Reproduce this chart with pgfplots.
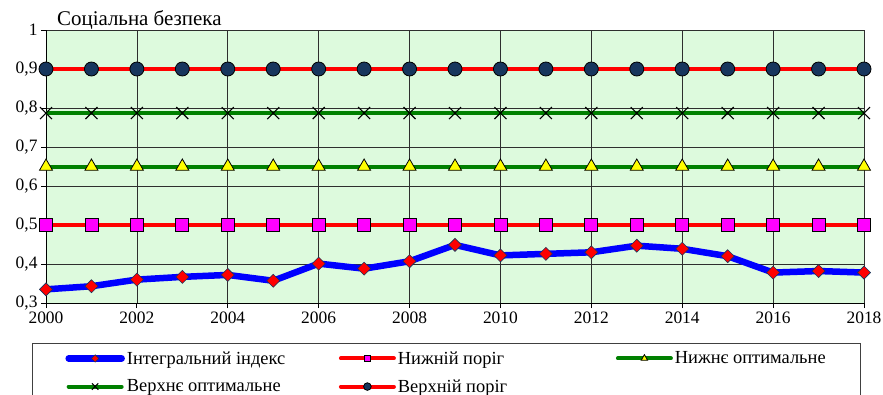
\documentclass[border=0pt]{standalone}
\usepackage{fontspec}
\setmainfont{Liberation Serif}
\usepackage{pgfplots}
\usepackage{pgfplotstable}
\pgfplotsset{compat=1.18}

\definecolor{panelgreen}{RGB}{221,250,221}
\definecolor{markernavy}{RGB}{23,54,93}
\definecolor{serblue}{RGB}{0,0,255}
\definecolor{serred}{RGB}{255,0,0}
\definecolor{sergreen}{RGB}{0,128,0}
\definecolor{sermagenta}{RGB}{255,0,255}
\definecolor{seryellow}{RGB}{255,255,0}

% year, integral index, lower threshold, lower optimum, upper optimum, upper threshold
\pgfplotstableread{
year  idx    lowthr lowopt upopt  upthr
2000  0.335  0.5    0.65   0.787  0.9
2001  0.343  0.5    0.65   0.787  0.9
2002  0.360  0.5    0.65   0.787  0.9
2003  0.367  0.5    0.65   0.787  0.9
2004  0.372  0.5    0.65   0.787  0.9
2005  0.357  0.5    0.65   0.787  0.9
2006  0.401  0.5    0.65   0.787  0.9
2007  0.388  0.5    0.65   0.787  0.9
2008  0.407  0.5    0.65   0.787  0.9
2009  0.449  0.5    0.65   0.787  0.9
2010  0.422  0.5    0.65   0.787  0.9
2011  0.426  0.5    0.65   0.787  0.9
2012  0.430  0.5    0.65   0.787  0.9
2013  0.447  0.5    0.65   0.787  0.9
2014  0.439  0.5    0.65   0.787  0.9
2015  0.420  0.5    0.65   0.787  0.9
2016  0.378  0.5    0.65   0.787  0.9
2017  0.382  0.5    0.65   0.787  0.9
2018  0.378  0.5    0.65   0.787  0.9
}\datatable

\pgfplotsset{
  legline/.style={
    legend image code/.code={
      \draw[##1, mark=none, line cap=round] (0bp,0bp) -- (53bp,0bp);
      \draw[##1, mark size=#1] plot coordinates {(26.5bp,0bp)};
    }
  }
}

\begin{document}
\begin{tikzpicture}[font=\rmfamily\fontsize{17.5}{20}\selectfont]
\begin{axis}[
  at={(46bp,92bp)}, anchor=south west,
  scale only axis, width=818bp, height=273bp,
  xmin=2000, xmax=2018, ymin=0.3, ymax=1,
  xtick={2000,2002,2004,2006,2008,2010,2012,2014,2016,2018},
  ytick={0.3,0.4,0.5,0.6,0.7,0.8,0.9,1.0},
  /pgf/number format/.cd, assume math mode=true, use comma, 1000 sep={}, fixed,
  /pgfplots/.cd,
  axis x line*=bottom, axis y line*=left,
  axis line style={-, black, line width=0.8bp},
  tick align=outside, major tick length=5bp,
  tick style={black, line width=0.8bp},
  grid=major, major grid style={draw=black!82, line width=0.7bp},
  axis background/.style={fill=panelgreen},
  clip=false,
  legend columns=3, legend cell align=left,
  legend style={
    at={(axis description cs:-0.0171,-0.1465)}, anchor=north west,
    draw=black!75, line width=0.8bp,
    inner xsep=33bp, inner ysep=6bp, row sep=10bp,
    nodes={inner sep=2bp, font=\rmfamily\fontsize{18.5}{21}\selectfont},
  },
]
\addplot[draw=serblue, line width=6.5bp, mark=square*, mark size=4.6bp,
  mark options={rotate=45, fill=serred, draw=markernavy, line width=0.6bp},
  legline=2.6bp] table[x=year, y=idx] {\datatable};
\addlegendentry{\makebox[210bp][l]{Інтегральний індекс}}

\addplot[draw=serred, line width=4bp, mark=square*, mark size=6.5bp,
  mark options={fill=sermagenta, draw=black, line width=0.8bp},
  legline=3.3bp] table[x=year, y=lowthr] {\datatable};
\addlegendentry{\makebox[216bp][l]{Нижній поріг}}

\addplot[draw=sergreen, line width=4bp, mark=triangle*, mark size=7.5bp,
  mark options={fill=seryellow, draw=black, line width=0.8bp},
  legline=3.8bp] table[x=year, y=lowopt] {\datatable};
\addlegendentry{Нижнє оптимальне}

\addplot[draw=sergreen, line width=4bp, mark=x, mark size=8.5bp,
  mark options={draw=black, line width=1.1bp},
  legline=4.5bp] table[x=year, y=upopt] {\datatable};
\addlegendentry{\makebox[210bp][l]{Верхнє оптимальне}}

\addplot[draw=serred, line width=4bp, mark=*, mark size=7bp,
  mark options={fill=markernavy, draw=black, line width=0.8bp},
  legline=3.8bp] table[x=year, y=upthr] {\datatable};
\addlegendentry{\makebox[216bp][l]{Верхній поріг}}

\node[anchor=base west, inner sep=0pt, font=\rmfamily\fontsize{21}{24}\selectfont]
  at (axis description cs:0.0134,1.018) {Соціальна безпека};
\end{axis}
\pgfresetboundingbox
\useasboundingbox (0bp,0bp) rectangle (883bp,395bp);
\end{tikzpicture}
\end{document}
